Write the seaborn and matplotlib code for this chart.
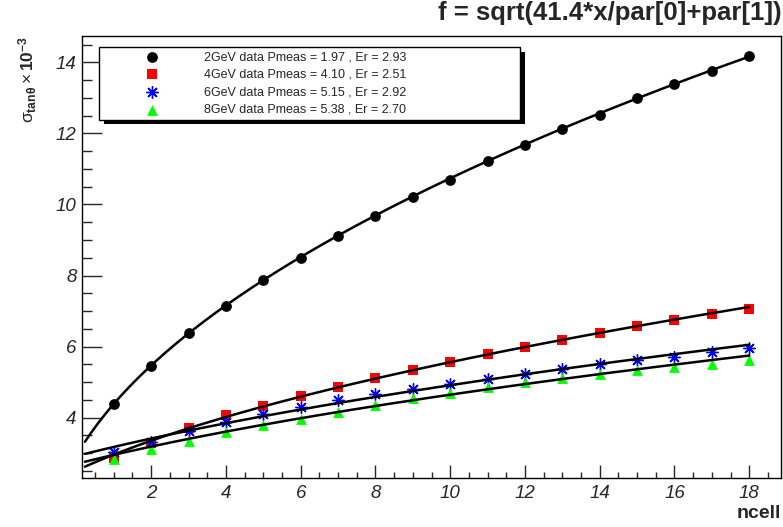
import numpy as np
import matplotlib
matplotlib.use("Agg")
import matplotlib.pyplot as plt
import seaborn as sns
from matplotlib.patches import Rectangle
from matplotlib.ticker import MultipleLocator

# values
ncell = list(range(1, 19))
sig_2gev = [4.38, 5.45, 6.37, 7.15, 7.87, 8.49, 9.12, 9.68, 10.20, 10.69,
            11.22, 11.66, 12.12, 12.52, 12.99, 13.39, 13.76, 14.18]
sig_4gev = [2.86, 3.30, 3.72, 4.07, 4.34, 4.62, 4.87, 5.11, 5.34, 5.58,
            5.79, 5.99, 6.18, 6.39, 6.57, 6.75, 6.93, 7.07]
sig_6gev = [3.03, 3.32, 3.63, 3.89, 4.10, 4.30, 4.50, 4.66, 4.80, 4.95,
            5.08, 5.24, 5.38, 5.50, 5.62, 5.70, 5.84, 5.96]
sig_8gev = [2.83, 3.11, 3.35, 3.59, 3.78, 3.96, 4.17, 4.36, 4.55, 4.70,
            4.86, 5.00, 5.11, 5.23, 5.34, 5.42, 5.51, 5.62]

# fit parameters from the legend
series_names = ["2GeV data", "4GeV data", "6GeV data", "8GeV data"]
pmeas = [1.97, 4.10, 5.15, 5.38]
er = [2.93, 2.51, 2.92, 2.70]
fit_range = [0.23, 18]

sns.set_style("ticks")
plt.rcParams["font.family"] = ["Liberation Sans", "DejaVu Sans"]
plt.rcParams["mathtext.fontset"] = "custom"
plt.rcParams["mathtext.rm"] = "Liberation Sans"
plt.rcParams["mathtext.it"] = "Liberation Sans:italic"
plt.rcParams["mathtext.bf"] = "Liberation Sans:bold"

fig = plt.figure(figsize=(7.83, 5.27), dpi=100)
ax = fig.add_axes([0.10473, 0.09355, 0.89272, 0.83871])

data = [sig_2gev, sig_4gev, sig_6gev, sig_8gev]
colors = ["black", "#ff0000", "#0000ff", "#00ff00"]
markers = ["o", "s", (8, 2, 0), "^"]
sizes = [60, 55, 70, 60]

for vals, name, p, e, c, m, s in zip(data, series_names, pmeas, er, colors, markers, sizes):
    lab = f"{name} Pmeas = {p:.2f} , Er = {e:.2f}"
    if m == (8, 2, 0):
        sns.scatterplot(x=ncell, y=vals, marker=m, color=c, s=s, linewidth=1.0,
                        zorder=3, ax=ax, label=lab)
    else:
        sns.scatterplot(x=ncell, y=vals, marker=m, color=c, edgecolor=c, s=s,
                        linewidth=0, zorder=3, ax=ax, label=lab)
    # fit function f = sqrt(41.4*x/Pmeas^2 + Er^2)
    xf = np.linspace(fit_range[0], fit_range[1], 200)
    yf = np.sqrt(41.4 * xf / p**2 + e**2)
    sns.lineplot(x=xf, y=yf, color="black", lw=1.8, zorder=4, ax=ax)

ax.set_xlim(0.15, 18.85)
ax.set_ylim(2.31, 14.75)
ax.xaxis.set_major_locator(MultipleLocator(2))
ax.xaxis.set_minor_locator(MultipleLocator(0.5))
ax.yaxis.set_major_locator(MultipleLocator(2))
ax.yaxis.set_minor_locator(MultipleLocator(0.5))
ax.tick_params(axis="x", which="major", direction="in", length=9.2, width=1, pad=5)
ax.tick_params(axis="x", which="minor", direction="in", length=4.5, width=1)
ax.tick_params(axis="y", which="major", direction="in", length=14.4, width=1, pad=4)
ax.tick_params(axis="y", which="minor", direction="in", length=7.2, width=1)
for lbl in ax.get_xticklabels() + ax.get_yticklabels():
    lbl.set_fontstyle("italic")
    lbl.set_fontsize(13.5)
for sp in ax.spines.values():
    sp.set_linewidth(1.0)
    sp.set_color("black")

ax.set_xlabel("ncell", fontweight="bold", fontsize=14, ha="right", va="center")
ax.xaxis.set_label_coords(1.0, -0.082)
ax.set_ylabel(r"$\mathrm{\sigma}_{\mathbf{tan\theta}}\times\mathbf{10^{-3}}$", fontsize=12.5,
              ha="right", va="center")
ax.yaxis.set_label_coords(-0.077, 1.0)

fig.text(0.998, 1 - 13 / 527, "f = sqrt(41.4*x/par[0]+par[1])", ha="right",
         va="center", fontweight="bold", fontsize=18.5)

# legend box with ROOT-like shadow
lx0, ly0, lw, lh = 0.0248, 0.8109, 0.6014, 0.1629
leg = ax.legend(loc="upper left", bbox_to_anchor=(lx0, ly0, lw, lh), mode="expand",
                borderaxespad=0, fontsize=9, frameon=True, fancybox=False,
                edgecolor="black", framealpha=1, borderpad=0.3, handlelength=7.8,
                handletextpad=0.27, labelspacing=0.45, scatterpoints=1)
leg.get_frame().set_linewidth(1.0)
leg.set_zorder(6)
ax.add_patch(Rectangle((lx0 + 5 / 699, ly0 - 5 / 442), lw, lh, transform=ax.transAxes,
                       facecolor="black", edgecolor="none", zorder=5, clip_on=False))

fig.savefig("out.png", dpi=100)
